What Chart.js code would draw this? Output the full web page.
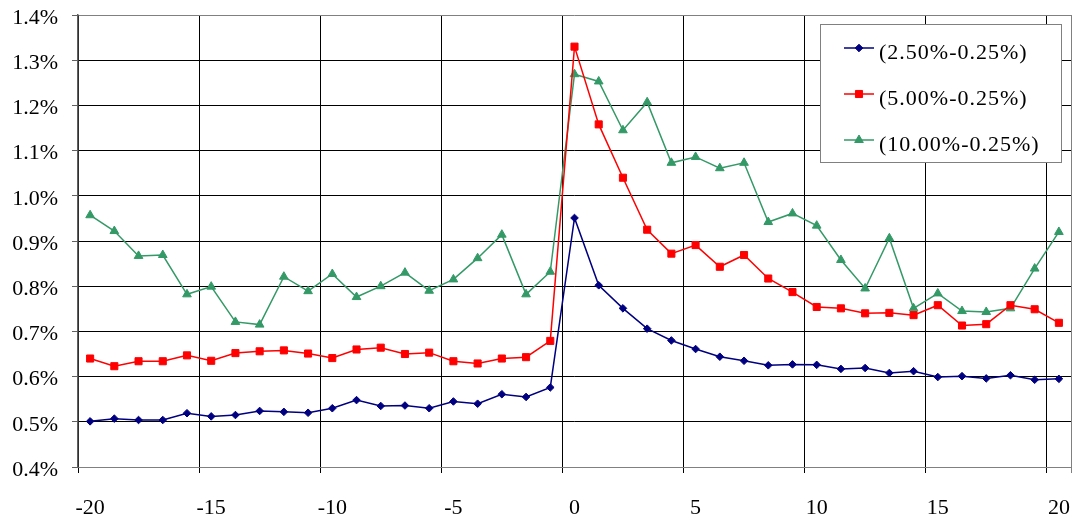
<!DOCTYPE html>
<html>
<head>
<meta charset="utf-8">
<script src="https://cdn.jsdelivr.net/npm/chart.js@4.4.1/dist/chart.umd.min.js"></script>
<style>
  html, body { margin: 0; padding: 0; background: #fff; }
  #wrap { position: relative; width: 1077px; height: 521px; }
</style>
</head>
<body>
<div id="wrap"><canvas id="spreadChart"></canvas></div>
<script>
// event window, days around the event
const eventDays = [-20, -19, -18, -17, -16, -15, -14, -13, -12, -11, -10, -9, -8, -7, -6, -5, -4, -3, -2, -1,
  0, 1, 2, 3, 4, 5, 6, 7, 8, 9, 10, 11, 12, 13, 14, 15, 16, 17, 18, 19, 20];

const seriesNames = ['(2.50%-0.25%)', '(5.00%-0.25%)', '(10.00%-0.25%)'];

// values in percent
const spread250 = [0.501, 0.507, 0.504, 0.504, 0.519, 0.512, 0.515, 0.524, 0.522, 0.520,
  0.530, 0.548, 0.535, 0.536, 0.530, 0.545, 0.540, 0.561, 0.555, 0.576,
  0.951, 0.802, 0.751, 0.706, 0.680, 0.661, 0.644, 0.635, 0.625, 0.627,
  0.626, 0.617, 0.619, 0.608, 0.612, 0.599, 0.601, 0.596, 0.603, 0.593, 0.595];
const spread500 = [0.640, 0.623, 0.634, 0.634, 0.647, 0.635, 0.652, 0.656, 0.658, 0.651,
  0.641, 0.660, 0.664, 0.650, 0.653, 0.634, 0.629, 0.640, 0.643, 0.679,
  1.330, 1.158, 1.040, 0.925, 0.872, 0.891, 0.843, 0.869, 0.817, 0.787,
  0.754, 0.751, 0.740, 0.741, 0.736, 0.758, 0.713, 0.716, 0.758, 0.749, 0.719];
const spread1000 = [0.957, 0.922, 0.867, 0.869, 0.782, 0.799, 0.721, 0.715, 0.821, 0.789,
  0.827, 0.776, 0.800, 0.830, 0.790, 0.815, 0.862, 0.914, 0.782, 0.832,
  1.269, 1.253, 1.145, 1.207, 1.073, 1.086, 1.061, 1.073, 0.942, 0.961,
  0.934, 0.858, 0.795, 0.906, 0.751, 0.784, 0.745, 0.743, 0.751, 0.839, 0.920];

const yMin = 0.4;
const yMax = 1.4;
const yStep = 0.1;

const FONT = '"Liberation Serif", "Times New Roman", serif';
Chart.defaults.font.family = FONT;
Chart.defaults.font.size = 22;
Chart.defaults.color = '#000';

function line(label, data, color, style, radius) {
  return {
    label, data,
    borderColor: color, backgroundColor: color,
    borderWidth: 1.5, tension: 0,
    pointStyle: style, pointRadius: radius, pointHoverRadius: radius,
    pointBackgroundColor: color, pointBorderColor: color, pointBorderWidth: 1
  };
}

// legend box sitting inside the plot, top right
const boxLegend = {
  id: 'boxLegend',
  afterDraw(chart) {
    const ctx = chart.ctx;
    ctx.save();
    ctx.fillStyle = '#fff';
    ctx.fillRect(820, 24, 241, 138);
    ctx.strokeStyle = '#808080';
    ctx.lineWidth = 1;
    ctx.strokeRect(820.5, 24.5, 241, 138);
    chart.data.datasets.forEach((ds, i) => {
      const y = 48 + i * 46;
      ctx.strokeStyle = ds.borderColor;
      ctx.lineWidth = ds.borderWidth;
      ctx.beginPath();
      ctx.moveTo(844, y);
      ctx.lineTo(874, y);
      ctx.stroke();
      ctx.fillStyle = ds.backgroundColor;
      ctx.lineWidth = 1;
      Chart.helpers.drawPoint(ctx, { pointStyle: ds.pointStyle, radius: ds.pointRadius, borderWidth: 1, rotation: 0 }, 859, y);
      ctx.fillStyle = '#000';
      ctx.font = '22px ' + FONT;
      ctx.letterSpacing = '1px';
      ctx.textAlign = 'left';
      ctx.textBaseline = 'middle';
      ctx.fillText(ds.label, 879, y + 5);
    });
    ctx.restore();
  }
};

new Chart(document.getElementById('spreadChart'), {
  type: 'line',
  data: {
    labels: eventDays,
    datasets: [
      line(seriesNames[0], spread250, '#000080', 'rectRot', 3.8),
      line(seriesNames[1], spread500, '#FF0000', 'rect', 5),
      line(seriesNames[2], spread1000, '#339966', 'triangle', 5)
    ]
  },
  options: {
    responsive: true,
    maintainAspectRatio: false,
    animation: false,
    layout: { padding: { top: 15, right: 6, left: 0, bottom: 0 } },
    plugins: { legend: { display: false }, tooltip: { enabled: false } },
    scales: {
      x: {
        type: 'category',
        offset: true,
        grid: {
          offset: true,
          tickLength: 6,
          lineWidth: 1,
          color: c => {
            if (!c.tick) return '#808080';
            return eventDays[c.index] % 5 === 0 ? '#000' : 'rgba(0,0,0,0)';
          }
        },
        border: { color: '#808080', width: 1 },
        ticks: {
          autoSkip: false, maxRotation: 0, minRotation: 0, padding: 22,
          callback: (v, i) => (eventDays[i] % 5 === 0 ? String(eventDays[i]) : '')
        },
        afterFit: s => { s.height = 54; s.paddingLeft = 0; s.paddingRight = 0; }
      },
      y: {
        min: yMin, max: yMax,
        ticks: { stepSize: yStep, padding: 14, labelOffset: 3, callback: v => v.toFixed(1) + '%' },
        grid: {
          tickLength: 6,
          tickColor: '#606060',
          color: c => (Math.abs(c.tick.value - yMax) < 1e-6 ? '#808080' : '#000')
        },
        border: { color: '#606060', width: 1.5 },
        afterFit: s => { s.width = 78; s.paddingTop = 0; s.paddingBottom = 0; }
      }
    }
  },
  plugins: [boxLegend]
});
</script>
</body>
</html>
